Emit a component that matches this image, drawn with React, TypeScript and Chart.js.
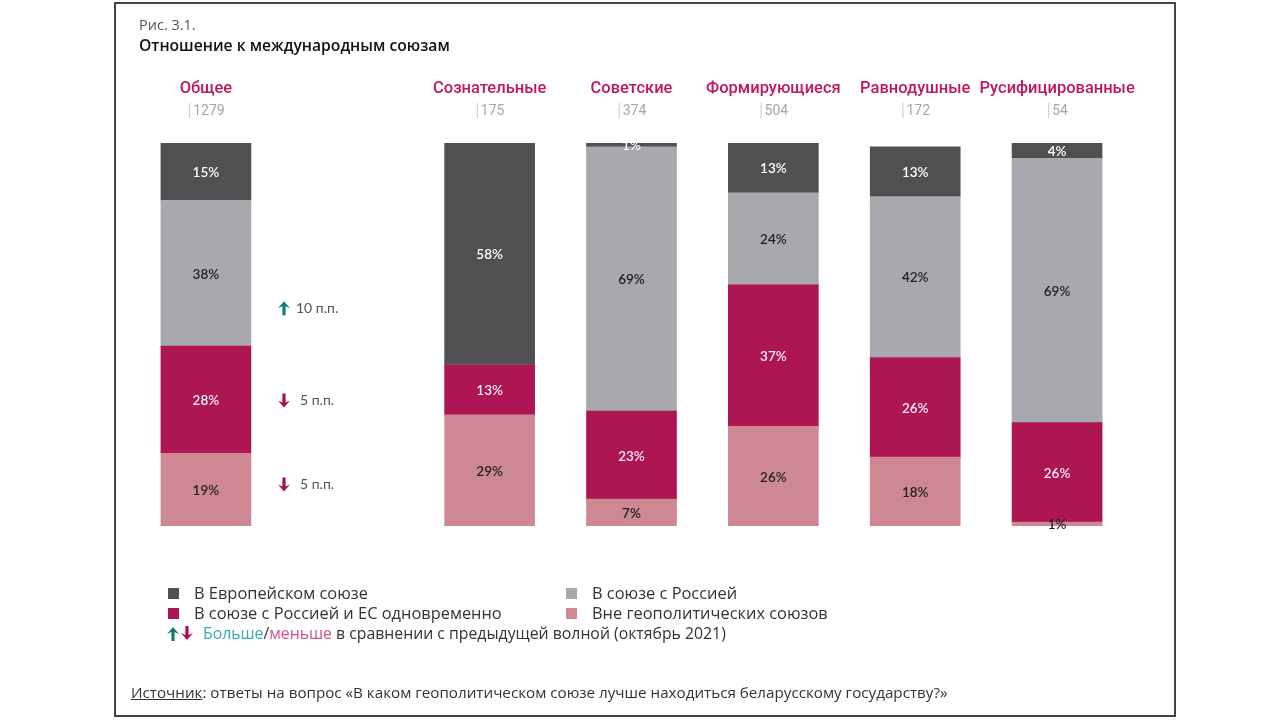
import React, { useEffect, useRef } from 'react';
import { Chart, registerables } from 'chart.js';

Chart.register(...registerables);

// ---- data ----
const groups = ['Общее', '', 'Сознательные', 'Советские', 'Формирующиеся', 'Равнодушные', 'Русифицированные'];
const sampleSizes = [1279, null, 175, 374, 504, 172, 54];
const outsideBlocs = [19, null, 29, 7, 26, 18, 1];
const russiaAndEu = [28, null, 13, 23, 37, 26, 26];
const withRussia = [38, null, 0, 69, 24, 42, 69];
const inEu = [15, null, 58, 1, 13, 13, 4];
const seriesNames = ['Вне геополитических союзов', 'В союзе с Россией и ЕС одновременно', 'В союзе с Россией', 'В Европейском союзе'];
// change vs previous wave for "Общее", per series (same order as seriesNames)
const changeTotal = [-5, -5, 10, null];

const COLORS = ['#ce8894', '#ad1553', '#a8a9ad', '#505053'];
const LABEL_COLORS = ['#222', '#fbeef3', '#222', '#ffffff'];
const ANN_OFFSETS = [-5, 1, 35, 0];
const TEAL = '#0f7c79';
const MAGENTA = '#a8114f';

function drawArrow(ctx: CanvasRenderingContext2D, x: number, cy: number, up: boolean, color: string) {
  ctx.save();
  ctx.fillStyle = color;
  ctx.beginPath();
  const h = 14, hw = 6, headH = 7, sw = 1.6;
  if (up) {
    const top = cy - h / 2;
    ctx.moveTo(x, top);
    ctx.lineTo(x + hw, top + headH);
    ctx.lineTo(x + sw, top + headH - 2);
    ctx.lineTo(x + sw, top + h);
    ctx.lineTo(x - sw, top + h);
    ctx.lineTo(x - sw, top + headH - 2);
    ctx.lineTo(x - hw, top + headH);
  } else {
    const bot = cy + h / 2;
    ctx.moveTo(x, bot);
    ctx.lineTo(x + hw, bot - headH);
    ctx.lineTo(x + sw, bot - headH + 2);
    ctx.lineTo(x + sw, bot - h);
    ctx.lineTo(x - sw, bot - h);
    ctx.lineTo(x - sw, bot - headH + 2);
    ctx.lineTo(x - hw, bot - headH);
  }
  ctx.closePath();
  ctx.fill();
  ctx.restore();
}

const overlayPlugin = {
  id: 'overlay',
  afterDatasetsDraw(chart: any) {
    const ctx: CanvasRenderingContext2D = chart.ctx;
    ctx.save();
    ctx.textBaseline = 'middle';
    ctx.textAlign = 'center';
    // value labels
    chart.data.datasets.forEach((ds: any, i: number) => {
      const meta = chart.getDatasetMeta(i);
      meta.data.forEach((bar: any, j: number) => {
        const v = ds.data[j];
        if (v == null || v === 0) return;
        const cy = (bar.y + bar.base) / 2;
        ctx.font = '600 13.5px Lato';
        ctx.fillStyle = LABEL_COLORS[i];
        ctx.textAlign = 'center';
        ctx.fillText(v + '%', bar.x, cy + 1);
      });
    });
    // headers and sample sizes
    const meta0 = chart.getDatasetMeta(0);
    groups.forEach((g, j) => {
      if (!g) return;
      const x = meta0.data[j].x;
      ctx.font = '500 16.5px Roboto';
      ctx.fillStyle = '#c0175d';
      ctx.textAlign = 'center';
      ctx.fillText(g, x, 89);
      const s = String(sampleSizes[j]);
      ctx.font = '14px Roboto';
      const w = ctx.measureText(s).width;
      ctx.fillStyle = '#a6a6a6';
      ctx.textAlign = 'left';
      ctx.fillText(s, x - w / 2 + 3, 111);
      ctx.fillStyle = '#c8c8c8';
      ctx.fillRect(x - w / 2 - 1, 103, 1, 15);
    });
    // change annotations next to "Общее"
    chart.data.datasets.forEach((ds: any, i: number) => {
      const c = changeTotal[i];
      if (c == null) return;
      const bar = chart.getDatasetMeta(i).data[0];
      const cy = (bar.y + bar.base) / 2 + ANN_OFFSETS[i];
      const up = c > 0;
      drawArrow(ctx, 284, cy, up, up ? TEAL : MAGENTA);
      ctx.font = '14px Lato';
      ctx.fillStyle = '#555';
      ctx.textAlign = 'left';
      ctx.fillText(Math.abs(c) + ' п.п.', up ? 296 : 300, cy);
    });
    // legend arrows
    drawArrow(ctx, 173, 634, true, TEAL);
    drawArrow(ctx, 187, 633, false, MAGENTA);
    ctx.restore();
  },
};

const abs = (left: number, cy: number, size: number, extra: React.CSSProperties = {}): React.CSSProperties => ({
  position: 'absolute',
  left,
  top: cy - size * 0.7,
  fontSize: size,
  lineHeight: size * 1.4 + 'px',
  whiteSpace: 'nowrap',
  fontFamily: '"Open Sans", sans-serif',
  color: '#333',
  ...extra,
});

export default function App() {
  const ref = useRef<HTMLCanvasElement>(null);
  useEffect(() => {
    document.body.style.margin = '0';
    const chart = new Chart(ref.current!, {
      type: 'bar',
      data: {
        labels: groups,
        datasets: [outsideBlocs, russiaAndEu, withRussia, inEu].map((d, i) => ({
          label: seriesNames[i],
          data: d as any,
          backgroundColor: COLORS[i],
          borderWidth: 0,
          barThickness: 90,
          categoryPercentage: 1,
        })),
      },
      options: {
        animation: false,
        responsive: false,
        devicePixelRatio: 1,
        layout: { padding: { left: 135, right: 152, top: 143, bottom: 194 } },
        scales: {
          x: { stacked: true, display: false },
          y: { stacked: true, display: false, min: 0, max: 100 },
        },
        plugins: { legend: { display: false }, tooltip: { enabled: false } },
      },
      plugins: [overlayPlugin],
    });
    return () => chart.destroy();
  }, []);

  const legendItems = [
    { name: 'В Европейском союзе', color: COLORS[3], x: 168, cy: 593 },
    { name: 'В союзе с Россией', color: COLORS[2], x: 566, cy: 593 },
    { name: 'В союзе с Россией и ЕС одновременно', color: COLORS[1], x: 168, cy: 613 },
    { name: 'Вне геополитических союзов', color: COLORS[0], x: 566, cy: 613 },
  ];

  return (
    <div style={{ position: 'relative', width: 1280, height: 720, background: '#fff', overflow: 'hidden' }}>
      <div style={{ position: 'absolute', left: 114, top: 2, width: 1058, height: 711, border: '2px solid #444' }} />
      <canvas ref={ref} width={1280} height={720} style={{ position: 'absolute', left: 0, top: 0 }} />
      <div style={abs(139, 25, 14.5, { color: '#555' })}>Рис. 3.1.</div>
      <div style={abs(139, 45, 15.7, { color: '#111', fontWeight: 600 })}>Отношение к международным союзам</div>
      {legendItems.map((it) => (
        <React.Fragment key={it.name}>
          <div style={{ position: 'absolute', left: it.x, top: it.cy - 5, width: 11, height: 11, background: it.color }} />
          <div style={abs(it.x + 26, it.cy, 16.4)}>{it.name}</div>
        </React.Fragment>
      ))}
      <div style={abs(203, 633, 15.8)}>
        <span style={{ color: '#3aa9b1' }}>Больше</span>/<span style={{ color: '#d4508a' }}>меньше</span> в сравнении с предыдущей волной (октябрь 2021)
      </div>
      <div style={abs(131, 693, 15.2)}>
        <span style={{ textDecoration: 'underline' }}>Источник</span>: ответы на вопрос «В каком геополитическом союзе лучше находиться беларусскому государству?»
      </div>
    </div>
  );
}
